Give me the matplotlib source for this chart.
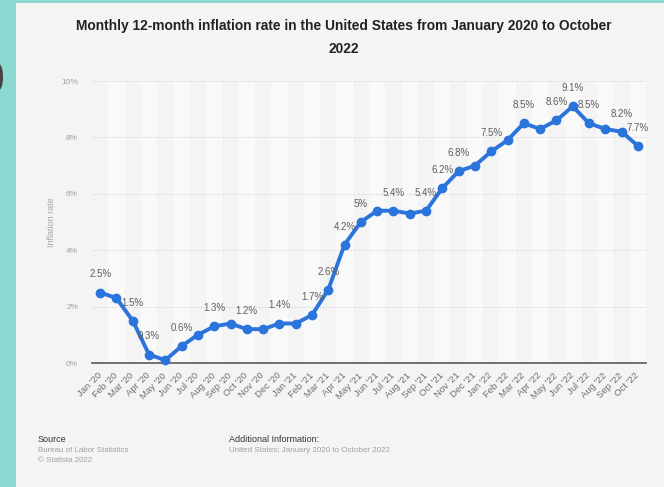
import matplotlib
matplotlib.use("Agg")
import matplotlib.pyplot as plt
from matplotlib.patches import Rectangle, Ellipse

plt.rcParams['font.family'] = ['Liberation Sans', 'DejaVu Sans']

months = ["Jan '20", "Feb '20", "Mar '20", "Apr '20", "May '20", "Jun '20", "Jul '20", "Aug '20",
          "Sep '20", "Oct '20", "Nov '20", "Dec '20", "Jan '21", "Feb '21", "Mar '21", "Apr '21",
          "May '21", "Jun '21", "Jul '21", "Aug '21", "Sep '21", "Oct '21", "Nov '21", "Dec '21",
          "Jan '22", "Feb '22", "Mar '22", "Apr '22", "May '22", "Jun '22", "Jul '22", "Aug '22",
          "Sep '22", "Oct '22"]
rates = [2.5, 2.3, 1.5, 0.3, 0.1, 0.6, 1.0, 1.3, 1.4, 1.2, 1.2, 1.4, 1.4, 1.7, 2.6, 4.2,
         5.0, 5.4, 5.4, 5.3, 5.4, 6.2, 6.8, 7.0, 7.5, 7.9, 8.5, 8.3, 8.6, 9.1, 8.5, 8.3,
         8.2, 7.7]
labeled = ["Jan '20", "Mar '20", "Apr '20", "Jun '20", "Aug '20", "Oct '20", "Dec '20",
           "Feb '21", "Mar '21", "Apr '21", "May '21", "Jul '21", "Sep '21", "Oct '21",
           "Nov '21", "Jan '22", "Mar '22", "May '22", "Jun '22", "Jul '22", "Sep '22", "Oct '22"]
yticks = [0, 2, 4, 6, 8, 10]

W, H = 664, 487
fig = plt.figure(figsize=(W / 100, H / 100), dpi=100)
fig.patch.set_facecolor('#f4f4f4')
teal = '#8cd9d2'
fig.patches.append(Rectangle((0, 0), 16 / W, 1, transform=fig.transFigure,
                             facecolor=teal, edgecolor='none', zorder=-5))
fig.patches.append(Rectangle((0, 1 - 3 / H), 1, 3 / H, transform=fig.transFigure,
                             facecolor=teal, edgecolor='none', zorder=-5))
fig.patches.append(Ellipse((-1 / W, 1 - 77 / H), 8 / W, 26 / H, transform=fig.transFigure,
                           facecolor='#444444', edgecolor='none', zorder=-4))

ax = fig.add_axes([92 / W, 1 - 363 / H, (646 - 92) / W, (363 - 81) / H])
ax.set_facecolor('#f4f4f4')
x = list(range(len(months)))
for i in x:
    if i % 2 == 1:
        ax.axvspan(i - 0.5, i + 0.5, color='#f9f9f9', zorder=0, lw=0)

ax.set_xlim(-0.5, len(months) - 0.5)
ax.set_ylim(0, 10)
ax.set_yticks(yticks)
ax.set_yticklabels([f"{v}%" for v in yticks], fontsize=6, color='#a0a0a0')
for v in yticks[1:]:
    ax.axhline(v, color='#d4d4d4', lw=0.8, ls=(0, (1, 1.5)), zorder=1)

ax.plot(x, rates, color='#2a74dc', lw=2.8, marker='o', ms=6, zorder=3, clip_on=False,
        solid_joinstyle='round')

for i, (m, r) in enumerate(zip(months, rates)):
    if m in labeled:
        ax.annotate(f"{r:g}%", (i, r), xytext=(0, 13), textcoords='offset points',
                    ha='center', va='center', fontsize=7, color='#5e5e5e', zorder=4)

ax.set_xticks(x)
ax.set_xticklabels(months, rotation=45, ha='right', va='center', rotation_mode='anchor',
                   fontsize=6.8, color='#707070')
ax.tick_params(axis='x', length=0, pad=8)
ax.tick_params(axis='y', length=0, pad=10)
for s in ['top', 'right', 'left']:
    ax.spines[s].set_visible(False)
ax.spines['bottom'].set_color('#666666')
ax.spines['bottom'].set_linewidth(1.3)
ax.spines['bottom'].set_zorder(2)
ax.set_ylabel('Inflation rate', fontsize=6.5, color='#a8a8a8', labelpad=4)

fig.text(344 / W, 1 - 26 / H, "Monthly 12-month inflation rate in the United States from January 2020 to October",
         ha='center', va='center', fontsize=9.9, fontweight='bold', color='#222222')
fig.text(344 / W, 1 - 49 / H, "2022", ha='center', va='center', fontsize=9.9,
         fontweight='bold', color='#222222')

fig.text(38 / W, 1 - 440 / H, "Source", ha='left', va='center', fontsize=6.5, color='#333333')
fig.text(38 / W, 1 - 451 / H, "Bureau of Labor Statistics", ha='left', va='center', fontsize=5.7, color='#a0a0a0')
fig.text(38 / W, 1 - 461 / H, "© Statista 2022", ha='left', va='center', fontsize=5.7, color='#a0a0a0')
fig.text(229 / W, 1 - 440 / H, "Additional Information:", ha='left', va='center', fontsize=6.5, color='#333333')
fig.text(229 / W, 1 - 451 / H, "United States; January 2020 to October 2022", ha='left', va='center',
         fontsize=5.8, color='#a0a0a0')

fig.savefig('out.png', dpi=100)
